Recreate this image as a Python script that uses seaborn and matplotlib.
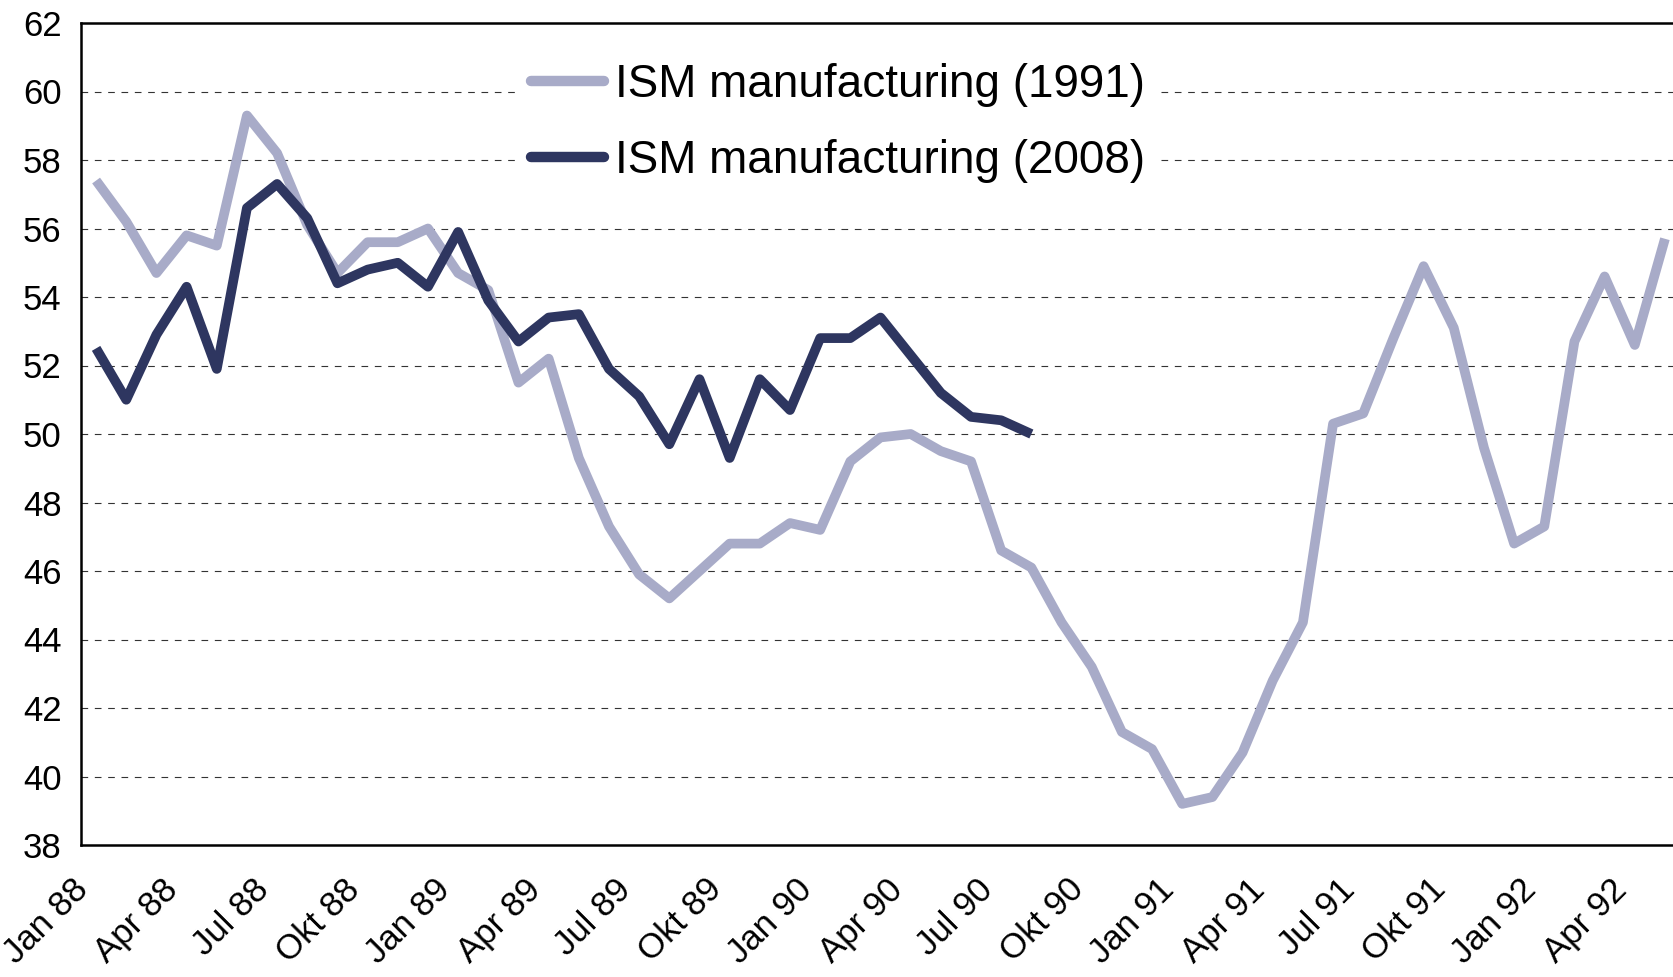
import matplotlib
matplotlib.use('Agg')
import matplotlib.pyplot as plt
import matplotlib.transforms as mtransforms
import seaborn as sns
import pandas as pd

# Monthly ISM values, Jan 88 .. May 92 (the 2008 cycle aligned on the same months)
month_names = ['Jan', 'Feb', 'Mar', 'Apr', 'Mai', 'Jun', 'Jul', 'Aug', 'Sep', 'Okt', 'Nov', 'Dez']
years = ['88', '89', '90', '91', '92']

ism_1991 = [57.4, 56.2, 54.7, 55.8, 55.5, 59.3, 58.2, 56.1, 54.7, 55.6, 55.6, 56.0,
            54.7, 54.2, 51.5, 52.2, 49.3, 47.3, 45.9, 45.2, 46.0, 46.8, 46.8, 47.4,
            47.2, 49.2, 49.9, 50.0, 49.5, 49.2, 46.6, 46.1, 44.5, 43.2, 41.3, 40.8,
            39.2, 39.4, 40.7, 42.8, 44.5, 50.3, 50.6, 52.8, 54.9, 53.1, 49.6, 46.8,
            47.3, 52.7, 54.6, 52.6, 55.7]
ism_2008 = [52.5, 51.0, 52.9, 54.3, 51.9, 56.6, 57.3, 56.3, 54.4, 54.8, 55.0, 54.3,
            55.9, 53.9, 52.7, 53.4, 53.5, 51.9, 51.1, 49.7, 51.6, 49.3, 51.6, 50.7,
            52.8, 52.8, 53.4, 52.3, 51.2, 50.5, 50.4, 50.0]

tick_labels = ['Jan 88', 'Apr 88', 'Jul 88', 'Okt 88', 'Jan 89', 'Apr 89', 'Jul 89', 'Okt 89',
               'Jan 90', 'Apr 90', 'Jul 90', 'Okt 90', 'Jan 91', 'Apr 91', 'Jul 91', 'Okt 91',
               'Jan 92', 'Apr 92']

label_1991 = 'ISM manufacturing (1991)'
label_2008 = 'ISM manufacturing (2008)'

months = [m + ' ' + y for y in years for m in month_names][:len(ism_1991)]

df = pd.concat([
    pd.DataFrame({'month': months, 'value': ism_1991, 'series': label_1991}),
    pd.DataFrame({'month': months[:len(ism_2008)], 'value': ism_2008, 'series': label_2008}),
])
# category centres sit between the month boundaries
df['pos'] = df['month'].map({m: i + 0.5 for i, m in enumerate(months)})

sns.set_style('white')
plt.rcParams['font.family'] = ['Liberation Sans', 'DejaVu Sans']
plt.rcParams['text.color'] = 'black'
plt.rcParams['xtick.labelsize'] = 25
plt.rcParams['ytick.labelsize'] = 25

fig = plt.figure(figsize=(16.74, 9.77), dpi=100)
ax = fig.add_axes([81 / 1674, 1 - 845 / 977, 1 - 81 / 1674, (845 - 23) / 977])

sns.lineplot(data=df, x='pos', y='value', hue='series', ax=ax,
             palette={label_1991: '#a8abc8', label_2008: '#2e3660'},
             linewidth=7, solid_capstyle='butt', zorder=3)

ax.set_xlim(0, 52.8)
ax.set_ylim(38, 62)
ax.set_yticks(range(38, 63, 2))
ax.set_xticks(range(0, 3 * len(tick_labels), 3))
ax.set_xticklabels(tick_labels, rotation=45, ha='right', va='top', rotation_mode='anchor')
ax.set_xlabel('')
ax.set_ylabel('')

for y in range(40, 61, 2):
    ax.axhline(y, color='#333333', linewidth=0.8, linestyle=(0, (6, 6)), zorder=1)

for side in ['left', 'bottom', 'top']:
    ax.spines[side].set_visible(True)
    ax.spines[side].set_color('black')
    ax.spines[side].set_linewidth(1.8)
ax.spines['right'].set_visible(False)

ax.tick_params(axis='both', direction='out', length=8, width=1, color='black',
               labelcolor='black')
ax.tick_params(axis='y', pad=6)
ax.tick_params(axis='x', pad=12)

# nudge the rotated month labels so their ends sit under the tick marks
shift = mtransforms.ScaledTranslation(-10 / 100, 0, fig.dpi_scale_trans)
for lab in ax.get_xticklabels():
    lab.set_transform(lab.get_transform() + shift)

leg = ax.legend(loc='center', bbox_to_anchor=(838 / 1674, 1 - 123 / 977),
                bbox_transform=fig.transFigure, frameon=True, facecolor='white',
                edgecolor='none', framealpha=1, fancybox=False,
                prop={'family': ['Liberation Sans Narrow', 'Liberation Sans'], 'size': 33},
                handlelength=1.6, handletextpad=0.25, labelspacing=0.7, borderpad=0.3)
for line in leg.get_lines():
    line.set_linewidth(7.5)
    line.set_solid_capstyle('round')
for text in leg.get_texts():
    text.set_color('black')
leg.set_zorder(5)

fig.savefig('out.png', dpi=100, facecolor='white')
